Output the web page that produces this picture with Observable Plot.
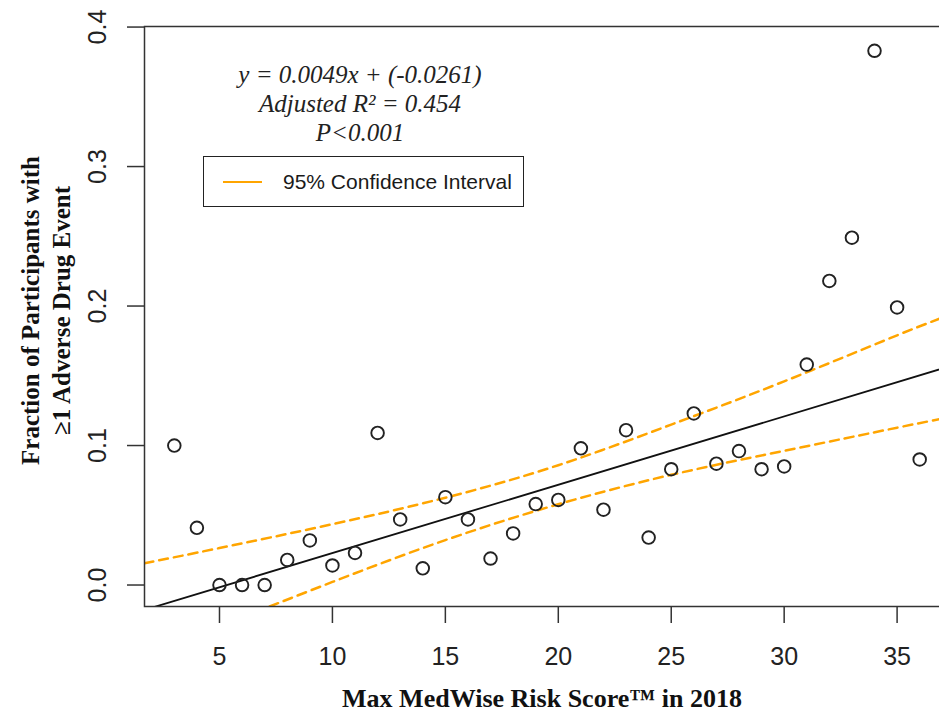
<!DOCTYPE html>
<html>
<head>
<meta charset="utf-8">
<script src="https://cdn.jsdelivr.net/npm/d3@7"></script>
<script src="https://cdn.jsdelivr.net/npm/@observablehq/plot@0.6"></script>
<style>
  html, body { margin: 0; padding: 0; background: #fff; }
  #wrap { position: relative; width: 939px; height: 715px; overflow: hidden; background: #fff; }
  #chart { position: absolute; left: 0; top: 0; width: 949px; }
  #chart svg { max-width: none !important; }
  #annot { position: absolute; left: 160px; top: 60px; width: 400px; text-align: center;
           font-family: "Liberation Serif", "Times New Roman", serif; font-style: italic;
           font-size: 25px; line-height: 29px; color: #222; }
  #legend { position: absolute; left: 203px; top: 156px; width: 319px; height: 49px;
            border: 1.5px solid #222; background: #fff; }
  #legend .sw { position: absolute; left: 19px; top: 24px; width: 39px; height: 0;
                border-top: 2.5px solid #FFA500; }
  #legend .lab { position: absolute; left: 79px; top: 0; line-height: 49px;
                 font-family: "Liberation Sans", Arial, sans-serif; font-size: 21px; color: #1a1a1a; }
</style>
</head>
<body>
<div id="wrap">
  <div id="chart"></div>
  <div id="annot"></div>
  <div id="legend"><div class="sw"></div><div class="lab"></div></div>
</div>
<script>
// ---- data ----
const scoreX = [3,4,5,6,7,8,9,10,11,12,13,14,15,16,17,18,19,20,21,22,23,24,25,26,27,28,29,30,31,32,33,34,35,36];
const fractionY = [0.100,0.041,0.000,0.000,0.000,0.018,0.032,0.014,0.023,0.109,0.047,0.012,0.063,0.047,0.019,0.037,0.058,0.061,0.098,0.054,0.111,0.034,0.083,0.123,0.087,0.096,0.083,0.085,0.158,0.218,0.249,0.383,0.199,0.090];

// fitted regression (from the reference's equation)
const slope = 0.0049;
const intercept = -0.0261;

// 95% confidence band, read at several x positions
const ciX     = [1.68,   5,       10,     15,     20,     25,     30,     35,     37.32];
const ciUpper = [0.0156, 0.0265,  0.0436, 0.0626, 0.0859, 0.1150, 0.1460, 0.1790, 0.1935];
const ciLower = [-0.0514,-0.0297, 0.0022, 0.0322, 0.0579, 0.0790, 0.0962, 0.1128, 0.1203];

const xTicks = [5,10,15,20,25,30,35];
const yTicks = [0.0,0.1,0.2,0.3,0.4];

const xDomain = [1.68, 37.32];
const yDomain = [-0.0154, 0.4004];

const xTitle = "Max MedWise Risk Score\u2122 in 2018";
const yTitle1 = "Fraction of Participants with";
const yTitle2 = "\u22651 Adverse Drug Event";
const annotLines = ["y = 0.0049x + (-0.0261)", "Adjusted R\u00B2 = 0.454", "P<0.001"];
const legendLabel = "95% Confidence Interval";

// ---- build tables ----
const points = scoreX.map((x, i) => ({x, y: fractionY[i]}));
const regLine = xDomain.map(x => ({x, y: slope * x + intercept}));
const upper = ciX.map((x, i) => ({x, y: ciUpper[i]}));
const lower = ciX.map((x, i) => ({x, y: ciLower[i]}));

const sans = "Liberation Sans, Arial, sans-serif";
const serif = "Liberation Serif, Times New Roman, serif";

const chart = Plot.plot({
  width: 949,
  height: 715,
  marginLeft: 144,
  marginRight: 0,
  marginTop: 26,
  marginBottom: 109,
  x: {domain: xDomain, axis: null},
  y: {domain: yDomain, axis: null},
  style: {background: "white", fontFamily: sans, color: "#222", maxWidth: "none"},
  marks: [
    Plot.line(upper, {x: "x", y: "y", stroke: "#FFA500", strokeWidth: 2.5, strokeDasharray: "9,6", curve: "natural", clip: true}),
    Plot.line(lower, {x: "x", y: "y", stroke: "#FFA500", strokeWidth: 2.5, strokeDasharray: "9,6", curve: "natural", clip: true}),
    Plot.line(regLine, {x: "x", y: "y", stroke: "#111", strokeWidth: 1.8, clip: true}),
    Plot.dot(points, {x: "x", y: "y", r: 6.3, stroke: "#222", strokeWidth: 1.9, fill: "none"}),
    Plot.frame({stroke: "#333", strokeWidth: 1.5}),
    Plot.axisX({ticks: xTicks, tickSize: 17, tickFormat: () => "", label: null, stroke: "#333", strokeWidth: 1.5}),
    Plot.axisY({ticks: yTicks, tickSize: 17, tickFormat: () => "", label: null, stroke: "#333", strokeWidth: 1.5}),
    Plot.text(xTicks, {x: d => d, text: d => String(d), frameAnchor: "bottom", textAnchor: "middle", lineAnchor: "middle", dy: 50, fontSize: 25, fontFamily: sans, fill: "#222"}),
    Plot.text(yTicks, {y: d => d, text: d => d.toFixed(1), frameAnchor: "left", textAnchor: "middle", lineAnchor: "middle", dx: -47, rotate: -90, fontSize: 25, fontFamily: sans, fill: "#222"}),
    Plot.text([xTitle], {text: d => d, frameAnchor: "bottom", textAnchor: "middle", lineAnchor: "middle", dx: -5, dy: 92, fontSize: 26, fontWeight: "bold", fontFamily: serif, fill: "#111"}),
    Plot.text([yTitle1], {text: d => d, frameAnchor: "left", textAnchor: "middle", lineAnchor: "middle", dx: -114, dy: -6, rotate: -90, fontSize: 25, fontWeight: "bold", fontFamily: serif, fill: "#111"}),
    Plot.text([yTitle2], {text: d => d, frameAnchor: "left", textAnchor: "middle", lineAnchor: "middle", dx: -83, dy: -6, rotate: -90, fontSize: 25, fontWeight: "bold", fontFamily: serif, fill: "#111"})
  ]
});
document.getElementById("chart").appendChild(chart);

const annot = document.getElementById("annot");
annotLines.forEach(t => { const d = document.createElement("div"); d.textContent = t; annot.appendChild(d); });
document.querySelector("#legend .lab").textContent = legendLabel;
</script>
</body>
</html>
